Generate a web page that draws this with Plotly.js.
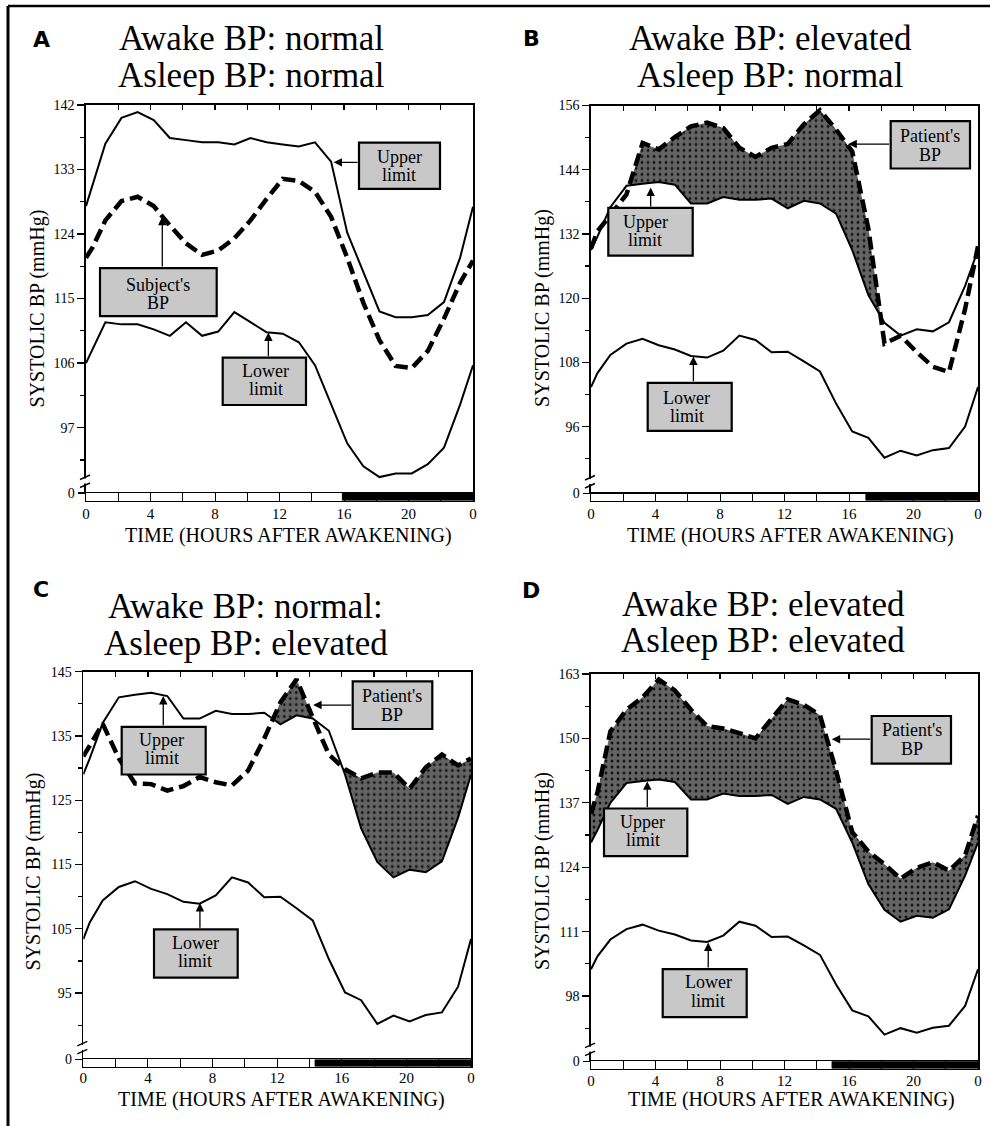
<!DOCTYPE html>
<html><head><meta charset="utf-8">
<script src="https://cdn.plot.ly/plotly-3.0.1.min.js"></script>
<style>html,body{margin:0;padding:0;background:#fff}#chart{width:990px;height:1126px}</style>
</head><body><div id="chart"></div>
<script>
// ---------------- DATA ----------------
const hours = [0, 0.4, 1.2, 2.2, 3.2, 4.2, 5.2, 6.2, 7.2, 8.2, 9.2, 10.2, 11.2, 12.2, 13.2, 14.2, 15.2, 16.2, 17.2, 18.2, 19.2, 20.2, 21.2, 22.2, 23.2, 24];
const xTickVals = [0, 4, 8, 12, 16, 20, 24];
const xTickText = ['0', '4', '8', '12', '16', '20', '0'];
const barDividers = [2, 6, 10, 14, 18, 22];

// Panel A
const upperA   = [127.9, 130.8, 136.6, 140.2, 141.0, 139.9, 137.4, 137.1, 136.8, 136.8, 136.5, 137.4, 136.8, 136.5, 136.2, 136.8, 134.1, 124.2, 118.7, 113.2, 112.4, 112.4, 112.7, 114.5, 120.7, 127.8];
const subjectA = [120.7, 122.1, 125.9, 128.6, 129.2, 127.9, 125.2, 122.7, 121.1, 121.7, 123.4, 125.9, 128.9, 131.7, 131.4, 129.9, 126.4, 120.7, 114.4, 109.2, 105.6, 105.3, 107.7, 112.2, 117.2, 120.3];
const lowerA   = [106.0, 107.9, 111.7, 111.4, 111.4, 110.7, 109.8, 111.7, 109.8, 110.4, 113.1, 111.7, 110.3, 110.1, 108.9, 105.7, 100.3, 94.8, 91.6, 90.1, 90.6, 90.6, 91.9, 94.2, 100.2, 105.7];

// Reference limits used in panels B, C, D
const upperRef = [129.0, 131.5, 137.0, 141.0, 141.4, 141.7, 141.2, 137.7, 137.7, 138.9, 138.4, 138.4, 138.6, 136.8, 138.2, 137.7, 135.8, 129.0, 120.6, 115.4, 113.0, 114.2, 113.8, 115.5, 122.3, 129.0];
const lowerRef = [103.4, 106.0, 109.4, 111.5, 112.4, 111.2, 110.4, 109.2, 108.9, 110.2, 113.0, 112.2, 109.9, 110.0, 108.2, 106.3, 100.3, 95.1, 93.9, 90.2, 91.5, 90.6, 91.6, 92.0, 96.0, 103.4];

const patientB = [129.3, 132.5, 135.5, 139.4, 149.0, 147.8, 150.1, 152.1, 152.8, 151.8, 148.1, 146.4, 148.1, 148.8, 152.5, 155.1, 151.5, 147.4, 133.0, 111.5, 113.0, 109.9, 107.2, 106.2, 118.0, 129.7];
const patientC = [131.8, 133.5, 136.9, 131.5, 127.6, 127.5, 126.5, 127.2, 128.6, 127.8, 127.3, 129.6, 134.6, 140.2, 143.8, 137.9, 132.1, 129.8, 128.4, 129.3, 129.3, 126.8, 130.1, 132.1, 130.4, 131.5];
const patientD = [134.8, 139.1, 151.4, 155.8, 158.3, 161.9, 159.7, 155.8, 152.5, 152.0, 151.1, 150.0, 154.0, 157.9, 156.8, 154.7, 143.5, 131.1, 127.2, 124.6, 121.7, 123.9, 125.0, 123.3, 126.4, 134.4];

const yTicksA = [97, 106, 115, 124, 133, 142];
const yTicksB = [96, 108, 120, 132, 144, 156];
const yTicksC = [95, 105, 115, 125, 135, 145];
const yTicksD = [98, 111, 124, 137, 150, 163];

const nightStart = [15.9, 17.05, 14.35, 14.95];
const panelLetters = ['A', 'B', 'C', 'D'];
const panelTitles = [
  ['Awake BP: normal', 'Asleep BP: normal'],
  ['Awake BP: elevated', 'Asleep BP: normal'],
  ['Awake BP: normal:', 'Asleep BP: elevated'],
  ['Awake BP: elevated', 'Asleep BP: elevated']
];
const xTitle = 'TIME (HOURS AFTER AWAKENING)';
const yTitle = 'SYSTOLIC BP (mmHg)';

// ---------------- LAYOUT GEOMETRY (pixels) ----------------
const W = 990, H = 1126;
const FONT = 'Liberation Serif, Times New Roman, serif';
const G = [
  {L: 86,   R: 473, T: 105,   ppu: 7.169, barTop: 493,    barBot: 500.5,  ticks: yTicksA, standoff: -1},
  {L: 591,  R: 978, T: 105.5, ppu: 5.352, barTop: 493.5,  barBot: 500.5,  ticks: yTicksB, standoff: -1},
  {L: 83.3, R: 471, T: 671.6, ppu: 6.43,  barTop: 1059.4, barBot: 1066.5, ticks: yTicksC, standoff: -3},
  {L: 591,  R: 978, T: 674.1, ppu: 4.952, barTop: 1061.2, barBot: 1068.5, ticks: yTicksD, standoff: -2}
];
G.forEach(g => { g.yMax = g.ticks[g.ticks.length - 1]; g.yMin = g.yMax - (g.barTop - g.T) / g.ppu; });

const series = [
  {upper: upperA,   lower: lowerA,   bp: subjectA, fillFrom: null},
  {upper: upperRef, lower: lowerRef, bp: patientB, fillFrom: 2},
  {upper: upperRef, lower: lowerRef, bp: patientC, fillFrom: 6},
  {upper: upperRef, lower: lowerRef, bp: patientD, fillFrom: 0}
];

const px2x = p => p / W, px2y = p => 1 - p / H;
const axId = n => (n === 1 ? '' : String(n));

function excessBand(xs, base, top, from) {
  const bx = [], by = [], ty = [];
  let prev = -1;
  for (let i = 0; i < xs.length; i++) {
    if (xs[i] < from) continue;
    if (prev >= 0) {
      const d0 = top[prev] - base[prev], d1 = top[i] - base[i];
      if ((d0 > 0 && d1 < 0) || (d0 < 0 && d1 > 0)) {
        const t = d0 / (d0 - d1);
        const xc = xs[prev] + t * (xs[i] - xs[prev]);
        const yc = base[prev] + t * (base[i] - base[prev]);
        bx.push(xc); by.push(yc); ty.push(yc);
      }
    }
    bx.push(xs[i]); by.push(base[i]); ty.push(Math.max(base[i], top[i]));
    prev = i;
  }
  return {x: bx, base: by, top: ty};
}

const traces = [];
const layout = {
  width: W, height: H, margin: {l: 0, r: 0, t: 0, b: 0},
  paper_bgcolor: '#fff', plot_bgcolor: 'rgba(0,0,0,0)', showlegend: false,
  shapes: [], annotations: []
};

G.forEach((g, i) => {
  const mx = 2 * i + 1, bx = 2 * i + 2;
  const xm = 'x' + axId(mx), ym = 'y' + axId(mx), xb = 'x' + axId(bx), yb = 'y' + axId(bx);
  const s = series[i];

  // fill where BP exceeds the upper limit
  if (s.fillFrom !== null) {
    const band = excessBand(hours, s.upper, s.bp, s.fillFrom);
    traces.push({x: band.x, y: band.base, xaxis: xm, yaxis: ym, mode: 'lines', line: {width: 0}, hoverinfo: 'skip'});
    traces.push({x: band.x, y: band.top, xaxis: xm, yaxis: ym, mode: 'lines', line: {width: 0}, fill: 'tonexty',
      fillcolor: '#646464', fillpattern: {shape: '.', bgcolor: '#646464', fgcolor: '#111', size: 6, solidity: 0.18}, hoverinfo: 'skip'});
  }
  traces.push({x: hours, y: s.upper, xaxis: xm, yaxis: ym, mode: 'lines', line: {color: '#000', width: 2}});
  traces.push({x: hours, y: s.lower, xaxis: xm, yaxis: ym, mode: 'lines', line: {color: '#000', width: 2}});
  traces.push({x: hours, y: s.bp, xaxis: xm, yaxis: ym, mode: 'lines', line: {color: '#000', width: 4.5, dash: '13px,6px'}});

  const xdom = [px2x(g.L), px2x(g.R)];
  const mids = [];
  for (let k = 0; k < g.ticks.length - 1; k++) mids.push((g.ticks[k] + g.ticks[k + 1]) / 2);
  mids.unshift(g.ticks[0] - (g.ticks[1] - g.ticks[0]) / 2);

  layout['xaxis' + axId(mx)] = {domain: xdom, range: [0, 24], anchor: ym, side: 'top', showline: true, linecolor: '#000', linewidth: 1.8,
    ticks: 'inside', ticklen: 5, tickwidth: 1.3, tickcolor: '#000', tickmode: 'linear', tick0: 0, dtick: 2,
    showticklabels: false, showgrid: false, zeroline: false, fixedrange: true};
  layout['yaxis' + axId(mx)] = {domain: [px2y(g.barTop), px2y(g.T)], range: [g.yMin, g.yMax], anchor: xm,
    showline: true, mirror: true, linecolor: '#000', linewidth: 1.8,
    ticks: 'outside', ticklen: 7, tickwidth: 1.3, tickcolor: '#000', tickmode: 'array', tickvals: g.ticks, ticktext: g.ticks.map(String),
    tickfont: {family: FONT, size: 14, color: '#000'},
    minor: {tickmode: 'array', tickvals: mids, ticks: 'outside', ticklen: 4, tickwidth: 1.3, tickcolor: '#000', showgrid: false},
    showgrid: false, zeroline: false, fixedrange: true};
  layout['xaxis' + axId(bx)] = {domain: xdom, range: [0, 24], anchor: yb, showline: true, mirror: true, linecolor: '#000', linewidth: 1.5,
    ticks: '', tickmode: 'array', tickvals: xTickVals, ticktext: xTickText, tickfont: {family: FONT, size: 15, color: '#000'},
    ticklabelstandoff: g.standoff,
    showgrid: true, gridcolor: '#000', gridwidth: 1,
    minor: {tickmode: 'array', tickvals: barDividers, ticks: '', showgrid: true, gridcolor: '#000', gridwidth: 1},
    zeroline: false, fixedrange: true};
  layout['yaxis' + axId(bx)] = {domain: [px2y(g.barBot), px2y(g.barTop)], range: [-1, 0], anchor: xb,
    showline: true, mirror: true, linecolor: '#000', linewidth: 1.5,
    ticks: 'outside', ticklen: 7, tickwidth: 1.3, tickcolor: '#000', tickmode: 'array', tickvals: [0], ticktext: ['0'],
    tickfont: {family: FONT, size: 14, color: '#000'}, showgrid: false, zeroline: false, fixedrange: true};

  // day/night bar
  layout.shapes.push({type: 'rect', xref: xb, yref: yb, x0: 0, x1: 24, y0: -1, y1: 0, fillcolor: '#fff', line: {width: 0}, layer: 'below'});
  layout.shapes.push({type: 'rect', xref: xb, yref: yb, x0: nightStart[i], x1: 24, y0: -1, y1: 0, fillcolor: '#000', line: {color: '#000', width: 1}, layer: 'above'});

  // axis break marks
  const b1 = g.barTop - 16, b2 = g.barTop - 8;
  layout.shapes.push({type: 'rect', xref: 'paper', yref: 'paper', x0: px2x(g.L - 3), x1: px2x(g.L + 3), y0: px2y(b2 - 1.5), y1: px2y(b1 + 1.5), fillcolor: '#fff', line: {width: 0}, layer: 'above'});
  [b1, b2].forEach(b => layout.shapes.push({type: 'line', xref: 'paper', yref: 'paper', x0: px2x(g.L - 6), y0: px2y(b + 2.5), x1: px2x(g.L + 4), y1: px2y(b - 2), line: {color: '#000', width: 1.4}, layer: 'above'}));
});

// outer frame (top and left)
layout.shapes.push({type: 'line', xref: 'paper', yref: 'paper', x0: px2x(8), y0: px2y(6), x1: 1, y1: px2y(6), line: {color: '#000', width: 2.5}});
layout.shapes.push({type: 'line', xref: 'paper', yref: 'paper', x0: px2x(8), y0: px2y(6), x1: px2x(8), y1: 0, line: {color: '#000', width: 3}});

function txt(x, y, text, size, extra) {
  return Object.assign({xref: 'paper', yref: 'paper', x: px2x(x), y: px2y(y), text: text, showarrow: false,
    xanchor: 'center', yanchor: 'middle', font: {family: FONT, size: size, color: '#000'}}, extra || {});
}

// titles, letters, axis titles
const titlePos = [
  {cx: 251.3, y1: 38.4, y2: 75.3, lx: 41.7, ly: 39.8, xt: [288.3, 535], yt: [37.3, 308.2]},
  {cx: 770,   y1: 38.4, y2: 75.3, lx: 531.7, ly: 39, xt: [790.8, 535], yt: [541.7, 308.2]},
  {cx: 245.5, y1: 606.5, y2: 643, lx: 40.7, ly: 589.9, xt: [281.7, 1099.5], yt: [33.3, 871.2]},
  {cx: 763,   y1: 604, y2: 641, lx: 530.7, ly: 590.6, xt: [791.7, 1099.5], yt: [541.7, 871.2]}
];
titlePos.forEach((t, i) => {
  layout.annotations.push(txt(t.cx, t.y1, panelTitles[i][0], 35));
  layout.annotations.push(txt(t.cx, t.y2, panelTitles[i][1], 35));
  layout.annotations.push(txt(t.lx, t.ly, '<b>' + panelLetters[i] + '</b>', 22, {font: {family: 'DejaVu Sans, Liberation Sans, sans-serif', size: 22, color: '#000'}}));
  layout.annotations.push(txt(t.xt[0], t.xt[1], xTitle, 20));
  layout.annotations.push(txt(t.yt[0], t.yt[1], yTitle, 20, {textangle: -90}));
});

// callout boxes with arrows
const callouts = [
  {p: 0, box: [359, 142.7, 440, 188.9], lines: ['Upper', 'limit'], cx: 399.3, ly: [156.6, 174.6], tip: [15.35, 134.0], dir: 'h'},
  {p: 0, box: [100, 268.1, 216.7, 316.1], lines: ["Subject's", 'BP'], cx: 158, ly: [284.9, 302.9], tip: [4.73, 126.4], dir: 'v'},
  {p: 0, box: [222.7, 357.7, 306, 405], lines: ['Lower', 'limit'], cx: 265.7, ly: [371, 388.9], tip: [11.31, 110.26], dir: 'v'},
  {p: 1, box: [890.7, 121.1, 970, 168.5], lines: ["Patient's", 'BP'], cx: 930, ly: [136.2, 155.2], tip: [15.96, 148.8], dir: 'h'},
  {p: 1, box: [608.3, 207.9, 692.7, 255.6], lines: ['Upper', 'limit'], cx: 645, ly: [222.2, 240.1], tip: [3.70, 140.66], dir: 'v'},
  {p: 1, box: [647.7, 382.8, 731.7, 430.8], lines: ['Lower', 'limit'], cx: 686.7, ly: [397.8, 415.8], tip: [6.35, 109.1], dir: 'v'},
  {p: 2, box: [352.7, 681.3, 432.3, 729], lines: ["Patient's", 'BP'], cx: 392.3, ly: [695.6, 714.6], tip: [14.23, 139.8], dir: 'h'},
  {p: 2, box: [121.7, 726.8, 205.7, 774.5], lines: ['Upper', 'limit'], cx: 161.7, ly: [740.4, 758.3], tip: [4.95, 141.2], dir: 'v'},
  {p: 2, box: [154, 929.3, 237.7, 977.7], lines: ['Lower', 'limit'], cx: 195, ly: [943, 960.8], tip: [7.22, 109.0], dir: 'v'},
  {p: 3, box: [871.7, 716, 951, 763.7], lines: ["Patient's", 'BP'], cx: 911.7, ly: [730.4, 748.7], tip: [14.93, 149.85], dir: 'h'},
  {p: 3, box: [604, 808.5, 687.3, 856.2], lines: ['Upper', 'limit'], cx: 642.7, ly: [821.8, 840.1], tip: [3.49, 141.33], dir: 'v'},
  {p: 3, box: [662.7, 969.1, 746.7, 1017.1], lines: ['Lower', 'limit'], cx: 708.3, ly: [982.4, 1001], tip: [7.27, 108.8], dir: 'v'}
];
callouts.forEach(c => {
  const g = G[c.p], mx = 2 * c.p + 1;
  const b = c.box;
  layout.shapes.push({type: 'rect', xref: 'paper', yref: 'paper', x0: px2x(b[0]), x1: px2x(b[2]), y0: px2y(b[3]), y1: px2y(b[1]),
    fillcolor: '#c8c8c8', line: {color: '#000', width: 2.2}, layer: 'above'});
  c.lines.forEach((l, k) => layout.annotations.push(txt(c.cx, c.ly[k], l, 18)));
  const tx = g.L + c.tip[0] * (g.R - g.L) / 24;
  const ty = g.T + (g.yMax - c.tip[1]) * g.ppu;
  const ax = c.dir === 'h' ? b[0] - tx : 0;
  const ay = c.dir === 'v' ? b[1] - ty : 0;
  layout.annotations.push({xref: 'x' + axId(mx), yref: 'y' + axId(mx), x: c.tip[0], y: c.tip[1], ax: ax, ay: ay,
    text: '', showarrow: true, arrowhead: 2, arrowsize: 1.3, arrowwidth: 1.3, arrowcolor: '#000', standoff: 0});
});

Plotly.newPlot('chart', traces, layout, {staticPlot: true, displayModeBar: false});
</script>
</body></html>
